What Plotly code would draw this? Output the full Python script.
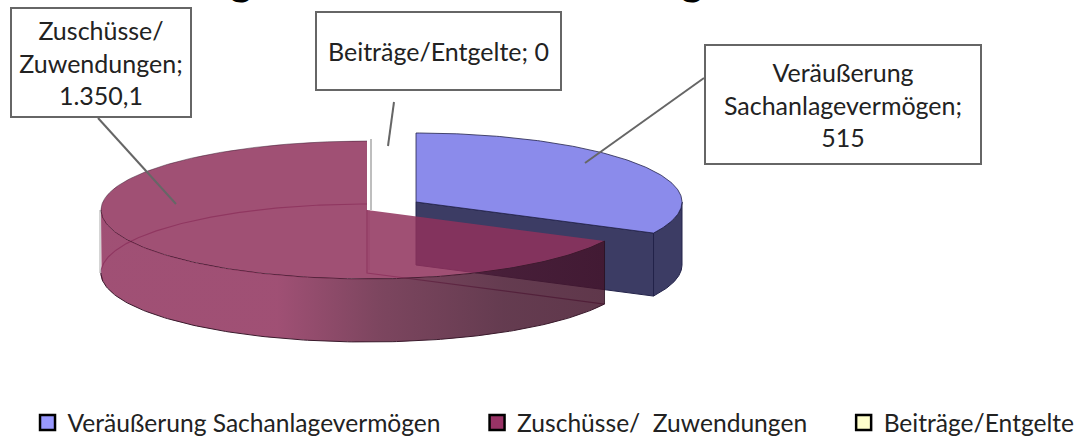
import numpy as np
import plotly.graph_objects as go

categories = ["Veräußerung Sachanlagevermögen", "Zuschüsse/  Zuwendungen", "Beiträge/Entgelte"]
values = [515, 1350.1, 0]
value_labels = ["515", "1.350,1", "0"]
swatch_colors = ["#9999FF", "#993366", "#FFFFCC"]
legend_pad = [5, 5, 0]

# pie geometry (canvas pixels, axes are mapped 1:1)
W, H = 1075, 439
A, B, DEPTH = 266.0, 69.0, 63.0
BLUE_C = (416.0, 202.0)
RED_C = (367.0, 210.0)
PERSP = 0.307     # foreshortening of angles in the tilted view

BLUE_TOP = "#8B8BEB"
BLUE_WALL = "#3C3C64"
BLUE_EDGE = "#23234A"
RED_TOP = "rgba(143,49,92,0.85)"
RED_LINE = "rgba(110,30,80,0.75)"


def seen(theta):
    """Screen angle (clockwise from top) for a true pie angle."""
    return theta + PERSP * np.sin(theta)


def rim(center, t0, t1, drop=0.0, n=160):
    t = np.linspace(t0, t1, n)
    return center[0] + A * np.sin(t), center[1] - B * np.cos(t) + drop


total = sum(values)
sweep_blue = 2 * np.pi * values[0] / total
blue_end = seen(sweep_blue)
red_end = 2 * np.pi

fig = go.Figure()


def poly(xs, ys, fill=None, line=None, lw=1.0, grad=None):
    kw = dict(x=list(xs), y=list(ys), mode="lines", showlegend=False, hoverinfo="skip",
              line=dict(color=line or "rgba(0,0,0,0)", width=lw))
    if fill or grad:
        kw["fill"] = "toself"
    if fill:
        kw["fillcolor"] = fill
    if grad:
        kw["fillgradient"] = grad
    fig.add_trace(go.Scatter(**kw))


# --- blue wedge ---
bx, by = BLUE_C
ax_, ay_ = rim(BLUE_C, blue_end, blue_end, n=1)
tip_x, tip_y = float(ax_[0]), float(ay_[0])
poly([bx, tip_x, tip_x, bx, bx], [by, tip_y, tip_y + DEPTH, by + DEPTH, by],
     fill=BLUE_WALL, line=BLUE_EDGE)
ox, oy = rim(BLUE_C, np.pi / 2, blue_end)
ox2, oy2 = rim(BLUE_C, np.pi / 2, blue_end, drop=DEPTH)
poly(list(ox) + list(ox2[::-1]) + [ox[0]], list(oy) + list(oy2[::-1]) + [oy[0]],
     fill=BLUE_WALL, line=BLUE_EDGE)
tx, ty = rim(BLUE_C, 0, blue_end)
poly([bx] + list(tx) + [bx], [by] + list(ty) + [by], fill=BLUE_TOP, line=BLUE_EDGE, lw=0.8)

# --- red wedge (translucent) ---
rx, ry = RED_C
r_start = seen(sweep_blue)
r_tip_x, r_tip_y = rim(RED_C, r_start, r_start, n=1)
r_tip_x, r_tip_y = float(r_tip_x[0]), float(r_tip_y[0])

# the empty "Beiträge/Entgelte" slice is only a thin vertical sliver
poly([rx + 4, rx + 4], [ry - B - 2, ry], line="#A8A8A8", lw=1.5)

hx, hy = rim(RED_C, 3 * np.pi / 2 - 0.12, red_end, drop=DEPTH)
poly(hx, hy, line=RED_LINE, lw=1.2)
poly([rx, rx, r_tip_x], [ry, ry + DEPTH, r_tip_y + DEPTH], line=RED_LINE, lw=1.2)
poly([rx + 2, rx + 2], [ry, ry + DEPTH - 3], line="rgba(110,30,80,0.35)", lw=1)

tx, ty = rim(RED_C, r_start, red_end)
poly([rx] + list(tx) + [rx], [ry] + list(ty) + [ry], fill=RED_TOP, line="rgba(90,30,60,0.0)")
fx, fy = rim(RED_C, r_start, 3 * np.pi / 2)
poly(fx, fy, line="#3A1A2C", lw=1)
bkx, bky = rim(RED_C, 3 * np.pi / 2, red_end)
poly(bkx, bky, line="rgba(60,30,50,0.7)", lw=0.7)

fx2, fy2 = rim(RED_C, r_start, 3 * np.pi / 2, drop=DEPTH)
poly(list(fx) + list(fx2[::-1]) + [fx[0]], list(fy) + list(fy2[::-1]) + [fy[0]],
     grad=dict(type="horizontal",
               colorscale=[[0, "rgba(143,49,92,0.85)"], [0.35, "rgba(143,49,92,0.85)"],
                           [0.55, "rgba(102,37,67,0.85)"], [0.8, "rgba(73,25,49,0.85)"],
                           [1, "rgba(67,20,43,0.85)"]]))
poly(fx2, fy2, line="#3A1A2C", lw=1)
poly([r_tip_x, r_tip_x], [r_tip_y, r_tip_y + DEPTH], line="rgba(40,15,30,0.8)", lw=1)
poly([rx - A - 1, rx - A - 1], [ry, ry + DEPTH], line="#AAAAAA", lw=1)

# legend entries
for i, name in enumerate(categories):
    fig.add_trace(go.Scatter(
        x=[None], y=[None], mode="markers", name=name + "\u00a0" * legend_pad[i],
        marker=dict(symbol="square", size=15, color=swatch_colors[i],
                    line=dict(color="#000000", width=2.5))))

FONT_FAMILY = "Lato, Carlito, Calibri, sans-serif"
LABEL_FONT = dict(family=FONT_FAMILY, size=25, color="#222222")
BOX = "#666666"
boxes = [
    dict(x=842.5, y=104, w=274, h=117, text=f"Veräußerung<br>Sachanlagevermögen;<br>{value_labels[0]}"),
    dict(x=100.5, y=62, w=178, h=107, text=f"Zuschüsse/<br>Zuwendungen;<br>{value_labels[1]}"),
    dict(x=438, y=51, w=243, h=76, text=f"Beiträge/Entgelte; {value_labels[2]}"),
]
annotations = [
    dict(x=b["x"], y=b["y"], xref="x", yref="y", text=b["text"], showarrow=False,
         width=b["w"], height=b["h"], align="center", valign="middle",
         bgcolor="white", bordercolor=BOX, borderwidth=2, borderpad=0, font=LABEL_FONT)
    for b in boxes
]
# the chart title is cut off by the top edge: only two descenders remain visible
for gx in (241, 692):
    annotations.append(dict(x=gx, y=1.0, xref="x", yref="paper", yanchor="middle", yshift=21,
                            showarrow=False, text="<b>g</b>",
                            font=dict(family="Lato, sans-serif", size=42, color="#000000")))

leaders = [((704, 78), (585, 163)), ((98, 118), (176, 204)), ((394, 102), (388, 146))]
shapes = [dict(type="line", x0=a[0], y0=a[1], x1=c[0], y1=c[1], xref="x", yref="y",
               line=dict(color=BOX, width=2), layer="above") for a, c in leaders]

fig.update_layout(
    width=W, height=H, margin=dict(l=0, r=0, t=0, b=0, autoexpand=False),
    paper_bgcolor="white", plot_bgcolor="white",
    xaxis=dict(range=[0, W], visible=False, fixedrange=True),
    yaxis=dict(range=[H, 0], visible=False, fixedrange=True),
    annotations=annotations, shapes=shapes,
    legend=dict(orientation="h", x=0.0256, y=-0.0137, xanchor="left", yanchor="bottom",
                font=dict(family=FONT_FAMILY, size=24.6, color="#222222"),
                itemwidth=30, bgcolor="rgba(0,0,0,0)", borderwidth=0),
)
fig.write_html("out.html", config={"displayModeBar": False},
               post_script="document.body.style.margin='0';document.body.style.overflow='hidden';")
